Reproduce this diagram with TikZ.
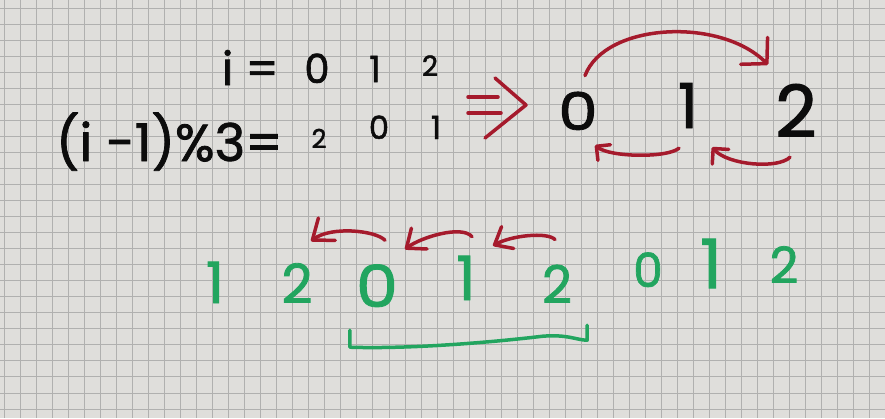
\documentclass[tikz,border=0pt]{standalone}
\usepackage{fontspec}
\newfontfamily\hand{Poppins}[FakeBold=1.5]
\usetikzlibrary{arrows.meta}
\definecolor{paper}{HTML}{DFDEDB}
\definecolor{gridline}{HTML}{B0B0AF}
\definecolor{inkblack}{HTML}{0C0C0C}
\definecolor{inkred}{HTML}{A51A2C}
\definecolor{inkgreen}{HTML}{22A55F}

\begin{document}
\begin{tikzpicture}[x=1pt,y=-1pt,
 digit/.style={inner sep=0pt,anchor=base,font=\hand\fontsize{#1}{#1}\selectfont},
 pen/.style={line width=3.5pt,line cap=round,line join=round},
 redpen/.style={pen,inkred},
 greenpen/.style={pen,inkgreen}]
% paper with grid
\fill[paper] (0,0) rectangle (885,418);
\useasboundingbox (0,0) rectangle (885,418);
\foreach \k in {0,...,54}
 \draw[gridline,line width=1pt] (4.3+16.03*\k,0) -- (4.3+16.03*\k,418);
\foreach \k in {0,...,25}
 \draw[gridline,line width=1pt] (0,8.3+16.03*\k) -- (885,8.3+16.03*\k);

% i row and (i-1)%3 row
\node[digit=46,text=inkblack,anchor=base east] (ieq) at (279,85) {i =};
\node[digit=40,text=inkblack] (i0) at (317,83) {0};
\node[digit=36,text=inkblack] (i1) at (375,82) {1};
\node[digit=28,text=inkblack] (i2) at (430,76) {2};
\node[digit=52,text=inkblack,anchor=base east] (modeq) at (283,161) {(i -1)\%3=};
\node[digit=26,text=inkblack] (m0) at (319,148) {2};
\node[digit=32,text=inkblack] (m1) at (379,139) {0};
\node[digit=32,text=inkblack] (m2) at (436,139) {1};

% implies sign
\coordinate (imp) at (497,120);
\draw[redpen] ([shift={(-29,-23)}]imp) -- ++(30,0);
\draw[redpen] ([shift={(-29,-7)}]imp) -- ++(33,0);
\draw[redpen] ([shift={(-2,-42)}]imp) -- ([shift={(29,-15)}]imp) -- ([shift={(-12,18)}]imp);

% cycle 0 -> 2, 2 -> 1, 1 -> 0
\node[digit=52,text=inkblack,xscale=1.2] (c0) at (578,130) {0};
\node[digit=62,text=inkblack] (c1) at (688,128) {1};
\node[digit=72,text=inkblack] (c2) at (796,137) {2};
\draw[redpen,-{Straight Barb[length=18pt,width=38pt,round]}]
 ([shift={(7,-16)}]c0.north) .. controls +(20,-53) and +(-48,-48) .. ([shift={(-7,-19)}]c2.north west);
\draw[redpen,-{Straight Barb[length=10pt,width=20pt,round]}]
 ([shift={(-9,20)}]c1.south) .. controls +(-12,10) and +(15,12) .. ([shift={(17,15)}]c0.south);
\draw[redpen,-{Straight Barb[length=11pt,width=22pt,round]}]
 ([shift={(-6,20)}]c2.south) .. controls +(-12,12) and +(16,18) .. ([shift={(24,19)}]c1.south);

% unrolled sequence
\node[digit=57,text=inkgreen] (g1) at (215,303) {1};
\node[digit=54,text=inkgreen] (g2) at (297,303) {2};
\node[digit=58,text=inkgreen,xscale=1.15] (g3) at (377,307) {0};
\node[digit=61,text=inkgreen] (g4) at (466,300) {1};
\node[digit=52,text=inkgreen] (g5) at (557,303) {2};
\node[digit=47,text=inkgreen] (g6) at (648,287) {0};
\node[digit=68,text=inkgreen] (g7) at (711,288) {1};
\node[digit=50,text=inkgreen] (g8) at (784,283) {2};
\draw[redpen,-{Straight Barb[length=18pt,width=28pt,round]}]
 ([shift={(8,-24)}]g3.north) .. controls +(-10,-10) and +(20,-15) .. ([shift={(14,-22)}]g2.north);
\draw[redpen,-{Straight Barb[length=16pt,width=26pt,round]}]
 ([shift={(6,-19)}]g4.north) .. controls +(-10,-12) and +(16,-12) .. ([shift={(28,-15)}]g3.north);
\draw[redpen,-{Straight Barb[length=15pt,width=25pt,round]}]
 ([shift={(-2,-25)}]g5.north) .. controls +(-8,-8) and +(18,-10) .. ([shift={(27,-10)}]g4.north);
\draw[greenpen] ([shift={(-6,23)}]g3.south west) -- ++(0,17)
 .. controls +(60,2) and +(-50,6) .. ++(193,-11)
 .. controls +(25,-2) and +(-10,0) .. ([shift={(15,37)}]g5.south east) -- ++(0,-15);
\end{tikzpicture}
\end{document}
